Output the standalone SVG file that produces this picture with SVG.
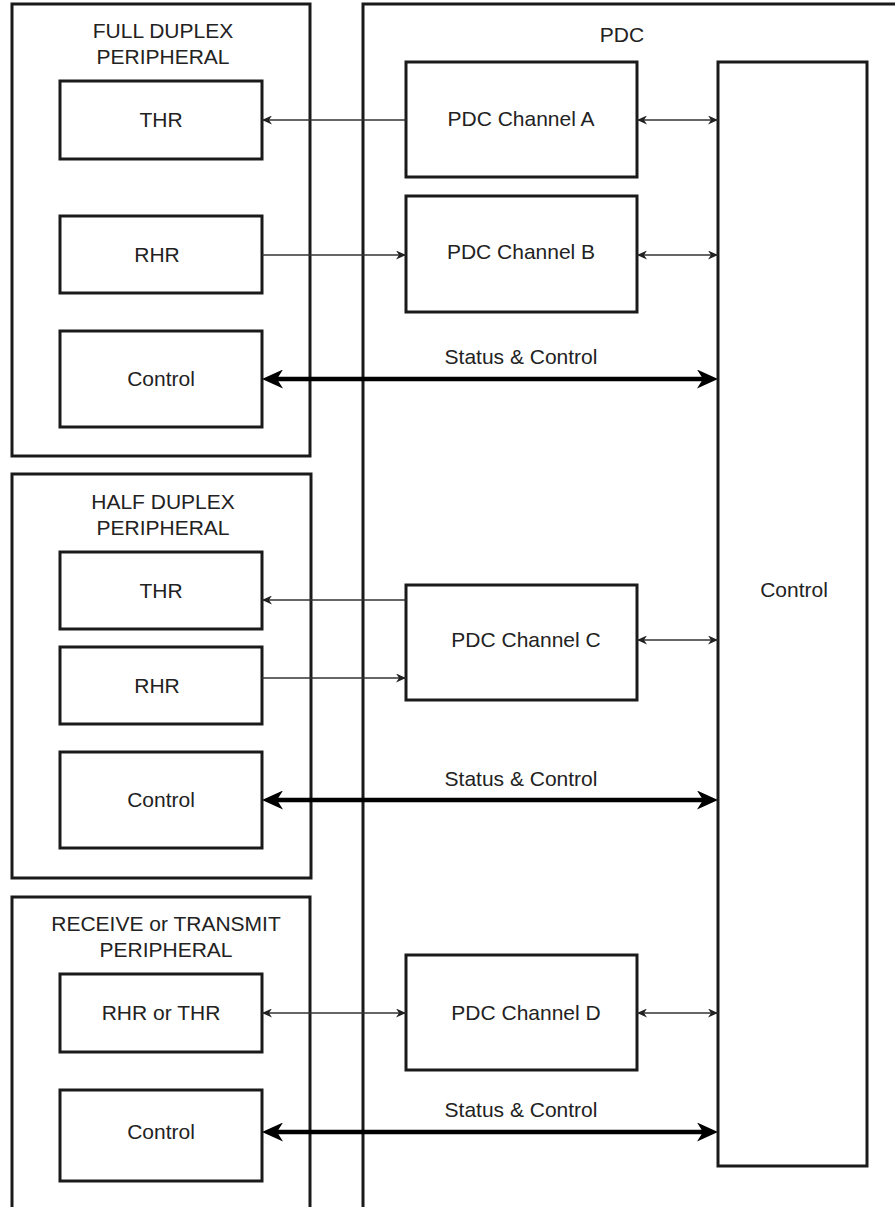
<svg xmlns="http://www.w3.org/2000/svg" width="895" height="1207" viewBox="0 0 895 1207">
<style>
.box{fill:#fff;stroke:#1a1a1a;stroke-width:3}
.open{fill:none;stroke:#1a1a1a;stroke-width:3}
.t{font-family:"Liberation Sans",Arial,sans-serif;font-size:21px;fill:#222;text-anchor:middle}
.thin{stroke:#333;stroke-width:1.3;fill:none}
.thick{stroke:#000;stroke-width:4.5;fill:none}
</style>
<defs>
<marker id="a" viewBox="0 0 10 9" refX="10" refY="4.5" markerWidth="10" markerHeight="9" markerUnits="userSpaceOnUse" orient="auto-start-reverse">
<path d="M0,0 L10,4.5 L0,9 L3,4.5 z" fill="#222"/>
</marker>
<marker id="b" viewBox="0 0 21 19" refX="9" refY="9.5" markerWidth="21" markerHeight="19" markerUnits="userSpaceOnUse" orient="auto-start-reverse">
<path d="M0,0 L21,9.5 L0,19 L6,9.5 z" fill="#000"/>
</marker>
</defs>
<rect width="895" height="1207" fill="#fff"/>

<g id="pdc">
<path class="open" d="M363,1210 V4 H897"/>
<text class="t" x="622" y="42">PDC</text>
</g>

<g id="full-duplex">
<rect class="box" x="12" y="4" width="298" height="452"/>
<text class="t" x="163" y="38">FULL DUPLEX</text>
<text class="t" x="163" y="64">PERIPHERAL</text>
</g>
<g id="fd-thr"><rect class="box" x="60" y="81" width="202" height="78"/><text class="t" x="161" y="127">THR</text></g>
<g id="fd-rhr"><rect class="box" x="60" y="216" width="202" height="77"/><text class="t" x="157" y="262">RHR</text></g>
<g id="fd-control"><rect class="box" x="60" y="331" width="202" height="96"/><text class="t" x="161" y="386">Control</text></g>

<g id="half-duplex">
<rect class="box" x="12" y="474" width="299" height="404"/>
<text class="t" x="163" y="509">HALF DUPLEX</text>
<text class="t" x="163" y="535">PERIPHERAL</text>
</g>
<g id="hd-thr"><rect class="box" x="60" y="552" width="202" height="77"/><text class="t" x="161" y="598">THR</text></g>
<g id="hd-rhr"><rect class="box" x="60" y="647" width="202" height="77"/><text class="t" x="157" y="693">RHR</text></g>
<g id="hd-control"><rect class="box" x="60" y="752" width="202" height="96"/><text class="t" x="161" y="807">Control</text></g>

<g id="rt-peripheral">
<path class="open" d="M12,1210 V897 H310 V1210"/>
<text class="t" x="166" y="931">RECEIVE or TRANSMIT</text>
<text class="t" x="166" y="957">PERIPHERAL</text>
</g>
<g id="rt-rhr-thr"><rect class="box" x="60" y="974" width="202" height="78"/><text class="t" x="161" y="1020">RHR or THR</text></g>
<g id="rt-control"><rect class="box" x="60" y="1090" width="202" height="91"/><text class="t" x="161" y="1139">Control</text></g>

<g id="ch-a"><rect class="box" x="406" y="62" width="231" height="115"/><text class="t" x="521" y="126">PDC Channel A</text></g>
<g id="ch-b"><rect class="box" x="406" y="196" width="231" height="116"/><text class="t" x="521" y="259">PDC Channel B</text></g>
<g id="ch-c"><rect class="box" x="406" y="585" width="231" height="115"/><text class="t" x="526" y="647">PDC Channel C</text></g>
<g id="ch-d"><rect class="box" x="406" y="955" width="231" height="115"/><text class="t" x="526" y="1020">PDC Channel D</text></g>

<g id="pdc-control"><rect class="box" x="718" y="62" width="149" height="1104"/><text class="t" x="794" y="597">Control</text></g>

<g id="connectors">
<line class="thin" x1="406" y1="120" x2="262" y2="120" marker-end="url(#a)"/>
<line class="thin" x1="637" y1="120" x2="718" y2="120" marker-start="url(#a)" marker-end="url(#a)"/>
<line class="thin" x1="262" y1="255" x2="406" y2="255" marker-end="url(#a)"/>
<line class="thin" x1="637" y1="255" x2="718" y2="255" marker-start="url(#a)" marker-end="url(#a)"/>
<line class="thick" x1="274" y1="379" x2="706" y2="379" marker-start="url(#b)" marker-end="url(#b)"/>
<text class="t" x="521" y="364">Status &amp; Control</text>

<line class="thin" x1="406" y1="600" x2="262" y2="600" marker-end="url(#a)"/>
<line class="thin" x1="262" y1="678" x2="406" y2="678" marker-end="url(#a)"/>
<line class="thin" x1="637" y1="640" x2="718" y2="640" marker-start="url(#a)" marker-end="url(#a)"/>
<line class="thick" x1="274" y1="800" x2="706" y2="800" marker-start="url(#b)" marker-end="url(#b)"/>
<text class="t" x="521" y="786">Status &amp; Control</text>

<line class="thin" x1="262" y1="1013" x2="406" y2="1013" marker-start="url(#a)" marker-end="url(#a)"/>
<line class="thin" x1="637" y1="1013" x2="718" y2="1013" marker-start="url(#a)" marker-end="url(#a)"/>
<line class="thick" x1="274" y1="1132" x2="706" y2="1132" marker-start="url(#b)" marker-end="url(#b)"/>
<text class="t" x="521" y="1117">Status &amp; Control</text>
</g>
</svg>
